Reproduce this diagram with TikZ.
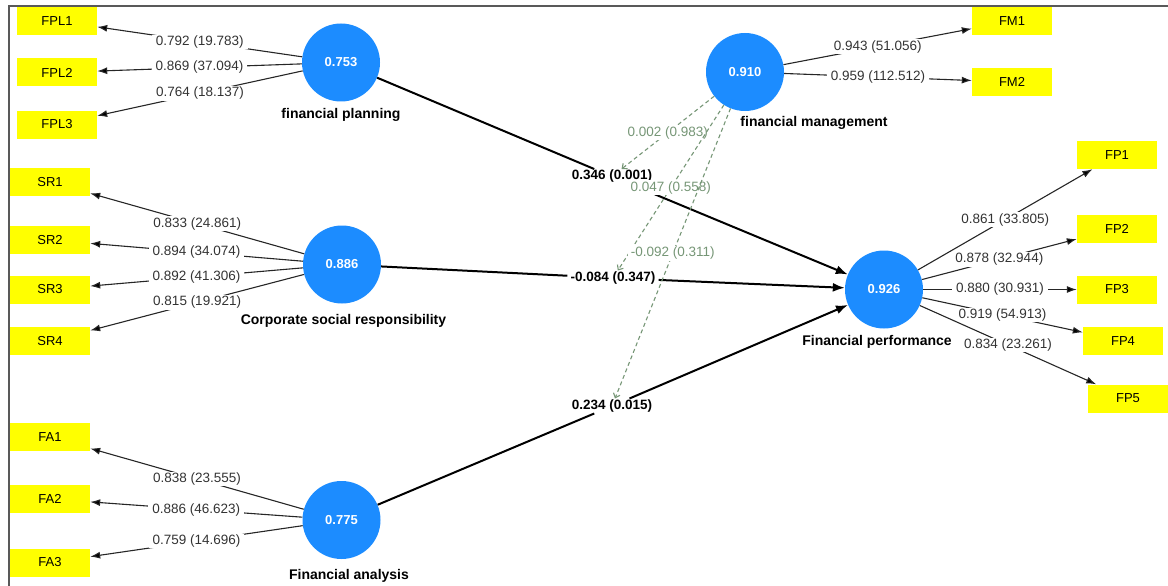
\documentclass[tikz,border=0pt]{standalone}
\usepackage{fontspec}
\setmainfont{Liberation Sans}
\usetikzlibrary{arrows.meta}
\definecolor{lvblue}{RGB}{28,140,255}
\definecolor{mvyellow}{RGB}{255,255,0}
\definecolor{modgreen}{RGB}{118,150,118}

\begin{document}
\begin{tikzpicture}[x=1pt, y=-1pt,
  lv/.style={circle, fill=lvblue, minimum size=78pt, inner sep=0pt, text=white, font=\fontsize{13}{15}\selectfont\bfseries},
  mv/.style={fill=mvyellow, minimum width=80pt, minimum height=28pt, inner sep=0pt, font=\fontsize{13}{15}\selectfont},
  lvname/.style={font=\fontsize{14}{16}\selectfont\bfseries},
  ld/.style={fill=white, inner ysep=1pt, inner xsep=4pt, text=black!80, font=\fontsize{13.5}{15}\selectfont},
  pc/.style={fill=white, inner ysep=1pt, inner xsep=3pt, font=\fontsize{13.5}{15}\selectfont\bfseries},
  md/.style={fill=white, inner ysep=1pt, inner xsep=3pt, text=modgreen, font=\fontsize{13.5}{15}\selectfont},
  outer/.style={draw=black!85, line width=1.1pt, -{Latex[length=10pt,width=7pt]}},
  inner/.style={draw=black, line width=2pt},
  moder/.style={draw=modgreen, line width=1.1pt, dash pattern=on 4pt off 3pt, -{Straight Barb[length=4pt,width=7pt]}}]
\useasboundingbox (0,0) rectangle (1168,586);
\draw[black!65, line width=1.5pt] (9,586) -- (9,6) -- (1168,6);

% latent variables
\node[lv] (fpl) at (341,62.5) {0.753};
\node[lv] (csr) at (342,264.5) {0.886};
\node[lv] (fa) at (341.5,520) {0.775};
\node[lv] (fm) at (745,72) {0.910};
\node[lv] (fp) at (884,289.5) {0.926};

\node[lvname] (fplname) at (341,115) {financial planning};
\node[lvname] (csrname) at (343.5,321) {Corporate social responsibility};
\node[lvname] (faname) at (349,576) {Financial analysis};
\node[lvname] (fmname) at (814,123) {financial management};
\node[lvname] (fpname) at (877,342) {Financial performance};

% indicators
\node[mv] (fpl1) at (57,21) {FPL1};
\node[mv] (fpl2) at (57,72.5) {FPL2};
\node[mv] (fpl3) at (57,124.5) {FPL3};
\node[mv] (sr1) at (50,182) {SR1};
\node[mv] (sr2) at (50,240) {SR2};
\node[mv] (sr3) at (50,289.5) {SR3};
\node[mv] (sr4) at (50,341) {SR4};
\node[mv] (fa1) at (50,437) {FA1};
\node[mv] (fa2) at (50,499) {FA2};
\node[mv] (fa3) at (50,562.5) {FA3};
\node[mv] (fm1) at (1012,21) {FM1};
\node[mv] (fm2) at (1012,82) {FM2};
\node[mv] (fp1) at (1117,155) {FP1};
\node[mv] (fp2) at (1117,228.5) {FP2};
\node[mv] (fp3) at (1117,289.5) {FP3};
\node[mv] (fp4) at (1123,341) {FP4};
\node[mv] (fp5) at (1128,398.5) {FP5};

% path coefficients
\node[pc] (p1) at (612,176.5) {0.346 (0.001)};
\node[pc] (p2) at (613,278) {-0.084 (0.347)};
\node[pc] (p3) at (612,406) {0.234 (0.015)};

% outer loadings
\path[outer]
(fpl) edge node[ld] {0.792 (19.783)} (fpl1)
      edge node[ld] {0.869 (37.094)} (fpl2)
      edge node[ld] {0.764 (18.137)} (fpl3)
(csr) edge node[ld] {0.833 (24.861)} (sr1)
      edge node[ld] {0.894 (34.074)} (sr2)
      edge node[ld] {0.892 (41.306)} (sr3)
      edge node[ld] {0.815 (19.921)} (sr4)
(fa)  edge node[ld] {0.838 (23.555)} (fa1)
      edge node[ld] {0.886 (46.623)} (fa2)
      edge node[ld] {0.759 (14.696)} (fa3)
(fm)  edge node[ld] {0.943 (51.056)} (fm1)
      edge node[ld] {0.959 (112.512)} (fm2)
(fp)  edge node[ld] {0.861 (33.805)} (fp1)
      edge node[ld] {0.878 (32.944)} (fp2)
      edge node[ld] {0.880 (30.931)} (fp3)
      edge node[ld] {0.919 (54.913)} (fp4)
      edge node[ld] {0.834 (23.261)} (fp5);

% structural paths
\path[inner]
(fpl) edge (p1)
(csr) edge (p2)
(fa)  edge (p3);
\path[inner, -{Latex[length=12pt,width=9pt]}]
(p1) edge (fp)
(p2) edge (fp)
(p3) edge (fp);

% moderating effects
\path[moder]
(fm) edge node[md] {0.002 (0.983)} (p1)
     edge node[md] {0.047 (0.558)} (p2)
     edge node[md] {-0.092 (0.311)} (p3);
\end{tikzpicture}
\end{document}
